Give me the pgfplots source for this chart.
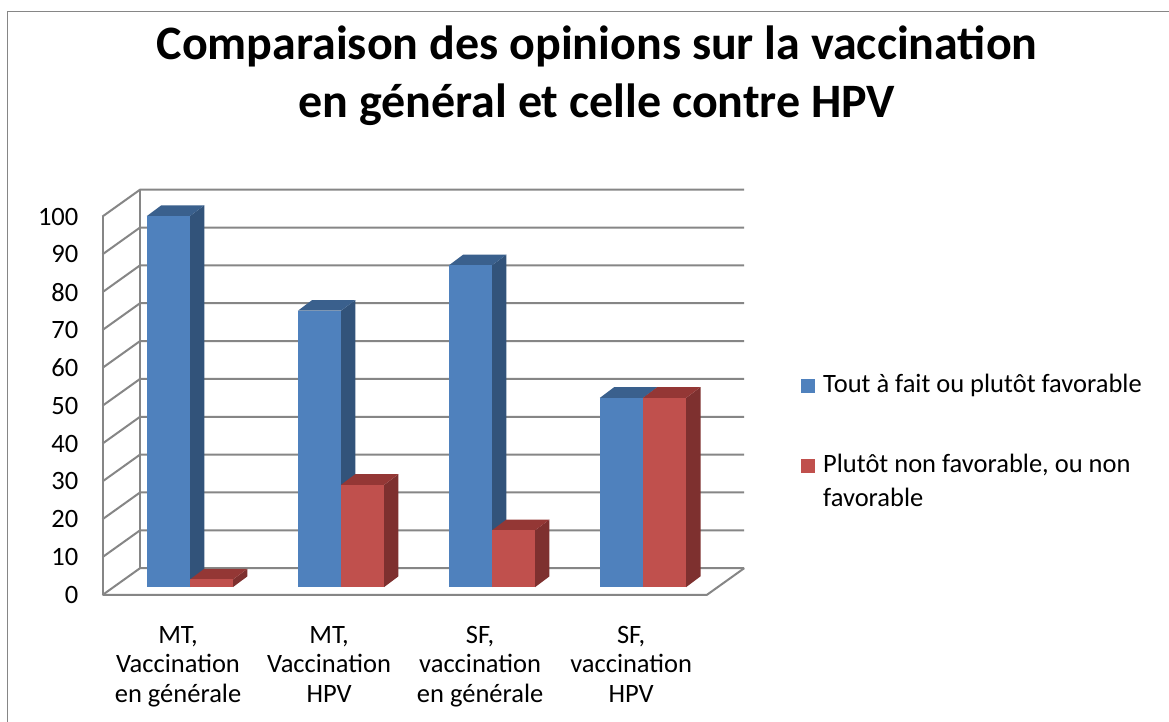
\documentclass[border=0pt]{standalone}
\usepackage{pgfplots}
\pgfplotsset{compat=1.18}
\usepackage{fontspec}
\setmainfont{Carlito}
\definecolor{bfront}{RGB}{79,129,189}
\definecolor{bside}{RGB}{50,83,122}
\definecolor{btop}{RGB}{58,96,141}
\definecolor{rfront}{RGB}{192,80,77}
\definecolor{rside}{RGB}{126,48,47}
\definecolor{rtop}{RGB}{148,55,53}
\definecolor{gridc}{RGB}{134,134,134}
\newcommand\bw{0.2855}
\newcommand\bb{2.1}
\newcommand\ddx{0.0947}
\newcommand\ddy{2.83}
\newcommand\wdx{0.2483}
\newcommand\wdy{7.08}
% #1 left x of front face, #2 value, #3 front colour, #4 top colour, #5 side colour
\newcommand\cuboid[5]{%
  \pgfmathsetmacro\xl{#1}%
  \pgfmathsetmacro\xr{#1+\bw}%
  \pgfmathsetmacro\xld{#1+\ddx}%
  \pgfmathsetmacro\xrd{#1+\bw+\ddx}%
  \pgfmathsetmacro\yb{\bb}%
  \pgfmathsetmacro\ybd{\bb+\ddy}%
  \pgfmathsetmacro\yt{\bb+#2}%
  \pgfmathsetmacro\ytd{\bb+#2+\ddy}%
  \addplot[fill=#5, draw=none, forget plot] coordinates {(\xr,\yb) (\xrd,\ybd) (\xrd,\ytd) (\xr,\yt)};
  \addplot[fill=#4, draw=none, forget plot] coordinates {(\xl,\yt) (\xr,\yt) (\xrd,\ytd) (\xld,\ytd)};
  \addplot[fill=#3, draw=none, forget plot] coordinates {(\xl,\yb) (\xr,\yb) (\xr,\yt) (\xl,\yt)};
}
\begin{document}
\begin{tikzpicture}
\fill[white] (0pt,0pt) rectangle (1169pt,722pt);
\useasboundingbox (0pt,0pt) rectangle (1169pt,722pt);
\draw[gridc, line width=1.5pt] (7.3pt,0pt) -- (7.3pt,710.7pt) -- (1169pt,710.7pt);
\begin{axis}[
  at={(102.5pt,127pt)}, anchor=south west, scale only axis,
  width=604.2pt, height=378.5pt,
  xmin=0, xmax=4, ymin=0, ymax=100,
  clip=false,
  axis line style={draw=none},
  tick style={draw=none},
  ytick={0,10,...,100},
  xtick={0.5,1.5,2.5,3.5},
  xticklabels={{MT,\\Vaccination\\en générale},{MT,\\Vaccination\\HPV},{SF,\\vaccination\\en générale},{SF,\\vaccination\\HPV}},
  tick label style={font=\fontsize{26.5}{29.5}\selectfont, inner sep=0pt},
  yticklabel style={anchor=east, xshift=-24pt},
  xticklabel style={anchor=north, yshift=-31pt, align=center},
  /pgf/number format/assume math mode=true,
]
\pgfplotsinvokeforeach{0,10,...,100}{
  \draw[gridc, line width=2pt] (axis cs:0,#1) -- (axis cs:\wdx,#1+\wdy) -- (axis cs:4+\wdx,#1+\wdy);
}
\draw[gridc, line width=2pt] (axis cs:0,0) -- (axis cs:0,100);
\draw[gridc, line width=2pt] (axis cs:\wdx,\wdy) -- (axis cs:\wdx,100+\wdy);
\draw[gridc, line width=2pt] (axis cs:0,0) -- (axis cs:4,0) -- (axis cs:4+\wdx,\wdy);
% group 1
\cuboid{0.2935}{98}{bfront}{btop}{bside}
\cuboid{0.579}{2}{rfront}{rtop}{rside}
% group 2
\cuboid{1.2935}{73}{bfront}{btop}{bside}
\cuboid{1.579}{27}{rfront}{rtop}{rside}
% group 3
\cuboid{2.2935}{85}{bfront}{btop}{bside}
\cuboid{2.579}{15}{rfront}{rtop}{rside}
% group 4
\cuboid{3.2935}{50}{bfront}{btop}{bside}
\cuboid{3.579}{50}{rfront}{rtop}{rside}
\end{axis}
\node[anchor=base, inner sep=0pt, font=\fontsize{48}{58}\selectfont\bfseries] at (597pt,662pt) {Comparaison des opinions sur la vaccination};
\node[anchor=base, inner sep=0pt, font=\fontsize{48}{58}\selectfont\bfseries] at (597pt,604pt) {en général et celle contre HPV};
\fill[bfront] (800.7pt,329pt) rectangle (814.7pt,343pt);
\node[anchor=base west, inner sep=0pt, font=\fontsize{26.5}{33.4}\selectfont] at (823pt,329pt) {Tout à fait ou plutôt favorable};
\fill[rfront] (800.7pt,249pt) rectangle (814.7pt,263pt);
\node[anchor=base west, inner sep=0pt, font=\fontsize{26.5}{33.4}\selectfont] at (823pt,249pt) {Plutôt non favorable, ou non};
\node[anchor=base west, inner sep=0pt, font=\fontsize{26.5}{33.4}\selectfont] at (823pt,215pt) {favorable};
\end{tikzpicture}
\end{document}
